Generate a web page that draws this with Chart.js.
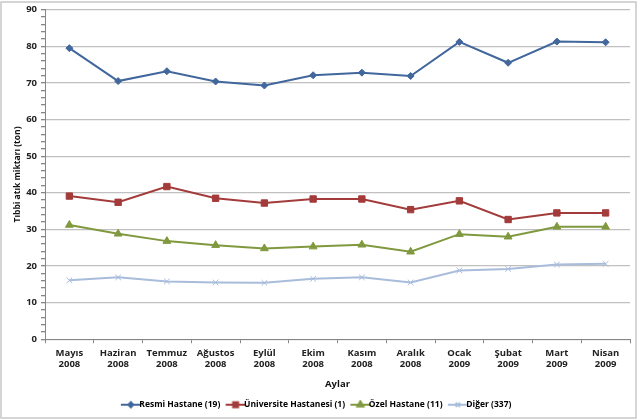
<!DOCTYPE html>
<html lang="tr">
<head>
  <meta charset="UTF-8" />
  <title>Tıbbi atık miktarı</title>
  <script src="https://cdn.jsdelivr.net/npm/chart.js"></script>
  <style>
    body { margin: 0; background: #fff; }
    canvas { display: block; }
  </style>
</head>
<body>
  <canvas id="chart" width="640" height="419"></canvas>
  <script>
    const months = [
      ['Mayıs', '2008'], ['Haziran', '2008'], ['Temmuz', '2008'], ['Ağustos', '2008'],
      ['Eylül', '2008'], ['Ekim', '2008'], ['Kasım', '2008'], ['Aralık', '2008'],
      ['Ocak', '2009'], ['Şubat', '2009'], ['Mart', '2009'], ['Nisan', '2009']
    ];
    const resmi = [79.5, 70.5, 73.2, 70.4, 69.3, 72.1, 72.8, 71.9, 81.2, 75.5, 81.3, 81.1];
    const universite = [39.1, 37.4, 41.7, 38.5, 37.2, 38.3, 38.3, 35.4, 37.8, 32.7, 34.5, 34.5];
    const ozel = [31.2, 28.8, 26.8, 25.7, 24.8, 25.3, 25.8, 23.9, 28.7, 28.0, 30.7, 30.7];
    const diger = [16.1, 16.9, 15.8, 15.5, 15.4, 16.5, 16.9, 15.5, 18.8, 19.2, 20.4, 20.6];

    const font = "'Open Sans', 'Noto Sans', sans-serif";

    // legend symbol: short line with the marker in the middle
    function legendIcon(color, style, r) {
      const c = document.createElement('canvas');
      c.width = 22; c.height = 10;
      const g = c.getContext('2d');
      g.strokeStyle = color; g.fillStyle = color; g.lineWidth = 2;
      g.beginPath(); g.moveTo(1, 5); g.lineTo(21, 5); g.stroke();
      Chart.helpers.drawPoint(g, { pointStyle: style, radius: r, borderWidth: 1 }, 11, 5);
      if (style !== 'crossRot') g.fill();
      return c;
    }

    const series = [
      { label: 'Resmi Hastane (19)', data: resmi, color: '#41679c', style: 'rectRot', r: 3.5 },
      { label: 'Üniversite Hastanesi (1)', data: universite, color: '#a33b3b', style: 'rect', r: 4.5 },
      { label: 'Özel Hastane (11)', data: ozel, color: '#80993f', style: 'triangle', r: 4.5 },
      { label: 'Diğer (337)', data: diger, color: '#a8bcdb', style: 'crossRot', r: 4 }
    ];

    const frame = {
      id: 'frame',
      afterDraw(chart) {
        const g = chart.ctx;
        g.save();
        g.strokeStyle = '#c8c8c8';
        g.lineWidth = 1.5;
        g.strokeRect(1, 2, 635, 416);
        g.restore();
      }
    };

    new Chart(document.getElementById('chart'), {
      type: 'line',
      data: {
        labels: months,
        datasets: series.map(s => ({
          label: s.label,
          data: s.data,
          borderColor: s.color,
          backgroundColor: s.color,
          borderWidth: 2,
          pointStyle: s.style,
          pointRadius: s.r,
          pointBorderWidth: 1,
          tension: 0,
          icon: legendIcon(s.color, s.style, s.r - 1)
        }))
      },
      options: {
        responsive: false,
        animation: false,
        layout: { padding: { left: 8, right: 10, top: 6, bottom: 0 } },
        scales: {
          x: {
            offset: true,
            grid: { drawOnChartArea: false, offset: true, tickLength: 4, tickColor: '#868686' },
            border: { color: '#868686' },
            ticks: {
              maxRotation: 0, autoSkip: false, padding: 5,
              color: '#222', font: { family: font, size: 9.5, weight: 'bold', lineHeight: 1.15 }
            },
            title: {
              display: true, text: 'Aylar', color: '#111', padding: { top: 3, bottom: 0 },
              font: { family: font, size: 9.5, weight: 'bold' }
            }
          },
          y: {
            min: 0, max: 90,
            afterFit(scale) { scale.width = 37; },
            grid: {
              color: ctx => ctx.tick && ctx.tick.value % 10 === 0 ? '#c0c0c0' : 'rgba(0,0,0,0)',
              lineWidth: 1.3,
              tickColor: '#868686',
              tickLength: 4
            },
            border: { color: '#868686' },
            ticks: {
              stepSize: 2, autoSkip: false, padding: 4,
              callback: v => v % 10 === 0 ? v : '',
              color: '#222', font: { family: font, size: 9.5, weight: 'bold' }
            },
            title: {
              display: true, text: 'Tıbbi atık miktarı (ton)', color: '#111', padding: { bottom: 2 },
              font: { family: font, size: 8.5, weight: 'bold' }
            }
          }
        },
        plugins: {
          legend: {
            position: 'bottom',
            labels: {
              usePointStyle: true,
              padding: 11,
              color: '#222',
              font: { family: font, size: 8.5, weight: 'bold' },
              generateLabels(chart) {
                return chart.data.datasets.map((d, i) => ({
                  text: d.label,
                  pointStyle: d.icon,
                  fillStyle: d.borderColor,
                  strokeStyle: d.borderColor,
                  lineWidth: 0,
                  hidden: false,
                  datasetIndex: i
                }));
              }
            }
          },
          tooltip: { enabled: false }
        }
      },
      plugins: [frame]
    });
  </script>
</body>
</html>
